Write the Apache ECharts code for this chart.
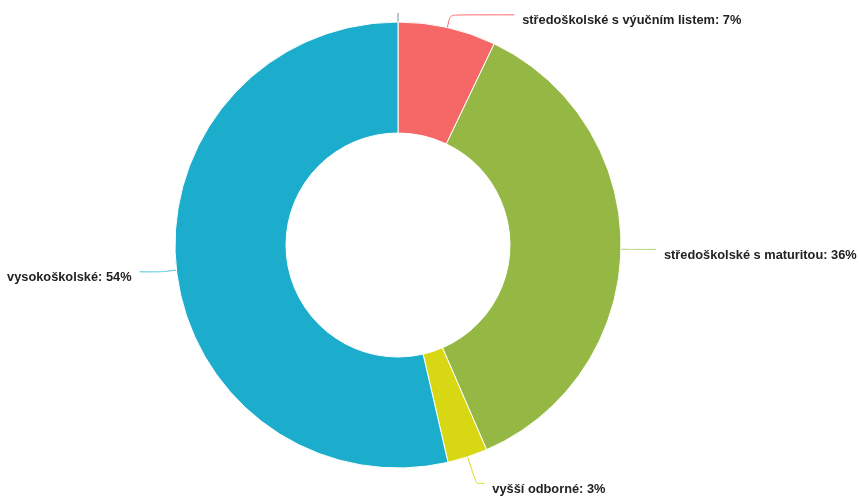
<!DOCTYPE html>
<html>
<head>
<meta charset="utf-8">
<script src="https://cdn.jsdelivr.net/npm/echarts@6/dist/echarts.min.js"></script>
<style>
html,body{margin:0;padding:0;background:#fff;}
#c{width:859px;height:498px;}
</style>
</head>
<body>
<div id="c"></div>
<script>
const categories = ['základní', 'středoškolské s výučním listem', 'středoškolské s maturitou', 'vyšší odborné', 'vysokoškolské'];
const values = [0, 7.1, 36.4, 2.9, 53.6];
const colors = ['#7a8b94', '#f66868', '#94b843', '#d8d714', '#1cadcd'];
const lineColors = ['#7a8b94', '#f66868', '#b3cf72', '#d8d714', '#4cc0da'];
const lineLengths = [[9, 0], [13, 64], [10, 25], [28, 8], [15, 22]];

const chart = echarts.init(document.getElementById('c'));
chart.setOption({
  animation: false,
  series: [{
    type: 'pie',
    center: [398, 245],
    radius: [112, 223],
    startAngle: 90,
    clockwise: true,
    avoidLabelOverlap: false,
    minShowLabelAngle: 0,
    itemStyle: { borderColor: '#fff', borderWidth: 1 },
    label: {
      show: true,
      distanceToLabelLine: 8,
      formatter: p => p.value === 0 ? '' : '{t|' + p.name + ': ' + Math.round(p.percent) + '%}',
      rich: {
        t: {
          fontFamily: 'Liberation Sans',
          fontWeight: 'bold',
          fontSize: 12.8,
          color: '#222',
          padding: [12, 0, 0, 0]
        }
      }
    },
    labelLine: { show: true, smooth: 0.2, lineStyle: { width: 1 } },
    data: categories.map((n, i) => ({
      name: n,
      value: values[i],
      itemStyle: { color: colors[i] },
      labelLine: { length: lineLengths[i][0], length2: lineLengths[i][1], lineStyle: { color: lineColors[i] } }
    }))
  }]
});
</script>
</body>
</html>
